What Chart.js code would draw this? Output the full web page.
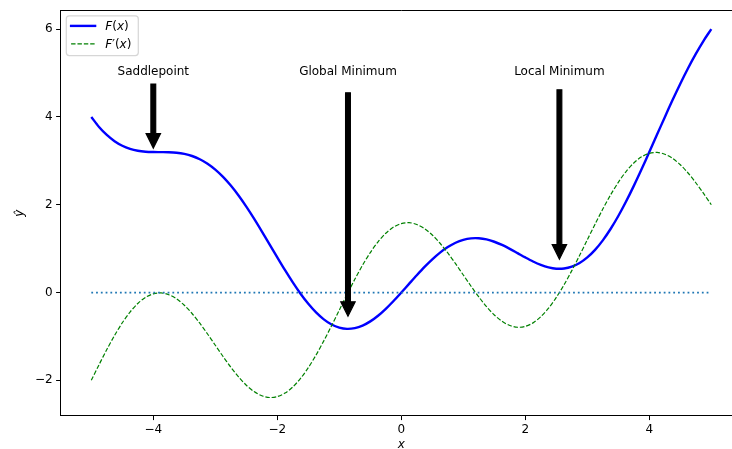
<!DOCTYPE html>
<html>
<head>
<meta charset="utf-8">
<script src="https://cdn.jsdelivr.net/npm/chart.js@4"></script>
<style>
  html, body { margin: 0; padding: 0; overflow: hidden; background: #ffffff; }
  canvas { display: block; }
</style>
</head>
<body>
<canvas id="chart" width="760" height="449"></canvas>
<script>
// Sample positions along x
const xValues = [
  -5, -4.875, -4.75, -4.625, -4.5, -4.375, -4.25, -4.125, -4, -3.875, -3.75, -3.625, -3.5, -3.375, -3.25, -3.125,
  -3, -2.875, -2.75, -2.625, -2.5, -2.375, -2.25, -2.125, -2, -1.875, -1.75, -1.625, -1.5, -1.375, -1.25, -1.125,
  -1, -0.875, -0.75, -0.625, -0.5, -0.375, -0.25, -0.125, 0, 0.125, 0.25, 0.375, 0.5, 0.625, 0.75, 0.875,
  1, 1.125, 1.25, 1.375, 1.5, 1.625, 1.75, 1.875, 2, 2.125, 2.25, 2.375, 2.5, 2.625, 2.75, 2.875,
  3, 3.125, 3.25, 3.375, 3.5, 3.625, 3.75, 3.875, 4, 4.125, 4.25, 4.375, 4.5, 4.625, 4.75, 4.875, 5
];

// F(x)
const fValues = [
  4.000, 3.772, 3.589, 3.447, 3.343, 3.273, 3.230, 3.208, 3.200, 3.198, 3.195, 3.184, 3.157, 3.110, 3.036, 2.934,
  2.800, 2.634, 2.436, 2.210, 1.957, 1.684, 1.395, 1.098, 0.800, 0.508, 0.230, -0.028, -0.257, -0.453, -0.611, -0.728,
  -0.800, -0.828, -0.811, -0.753, -0.657, -0.528, -0.370, -0.192, 0.000, 0.198, 0.395, 0.584, 0.757, 0.910, 1.036, 1.134,
  1.200, 1.234, 1.236, 1.210, 1.157, 1.084, 0.995, 0.898, 0.800, 0.708, 0.630, 0.573, 0.543, 0.547, 0.589, 0.672,
  0.800, 0.972, 1.189, 1.447, 1.743, 2.073, 2.430, 2.808, 3.200, 3.598, 3.995, 4.384, 4.757, 5.110, 5.436, 5.734, 6.000
];

// F'(x)
const dfValues = [
  -2.000, -1.644, -1.299, -0.977, -0.689, -0.444, -0.249, -0.109, -0.029, -0.009, -0.049, -0.144, -0.289, -0.477, -0.699, -0.944,
  -1.200, -1.457, -1.701, -1.923, -2.111, -2.256, -2.351, -2.391, -2.371, -2.291, -2.151, -1.956, -1.711, -1.423, -1.101, -0.757,
  -0.400, -0.044, 0.301, 0.623, 0.911, 1.156, 1.351, 1.491, 1.571, 1.591, 1.551, 1.456, 1.311, 1.123, 0.901, 0.657,
  0.400, 0.144, -0.101, -0.323, -0.511, -0.656, -0.751, -0.791, -0.771, -0.691, -0.551, -0.356, -0.111, 0.177, 0.499, 0.844,
  1.200, 1.557, 1.901, 2.223, 2.511, 2.756, 2.951, 3.091, 3.171, 3.191, 3.151, 3.056, 2.911, 2.723, 2.501, 2.257, 2.000
];

// Horizontal reference line at y = 0
const zeroLineX = [-5, 5];
const zeroLineY = [0, 0];

// Axis ticks
const xTickValues = [-4, -2, 0, 2, 4];
const yTickValues = [-2, 0, 2, 4, 6];

// Annotated points and their label heights
const annotationLabels = ['Saddlepoint', 'Global Minimum', 'Local Minimum'];
const annotationX = [-4, -0.86, 2.55];
const annotationY = [3.2, -0.83, 0.54];
const annotationTextY = [5, 5, 5];

const FONT = '"DejaVu Sans", sans-serif';
Chart.defaults.font.family = FONT;

const toPoints = (xs, ys) => xs.map((x, i) => ({ x: x, y: ys[i] }));
const minusSign = v => String(v).replace('-', '\u2212');

function drawDownArrow(ctx, x, yStart, yTip) {
  const shaftW = 4.8, headW = 14.4, headL = 14.4;
  ctx.beginPath();
  ctx.moveTo(x - shaftW / 2, yStart);
  ctx.lineTo(x + shaftW / 2, yStart);
  ctx.lineTo(x + shaftW / 2, yTip - headL);
  ctx.lineTo(x + headW / 2, yTip - headL);
  ctx.lineTo(x, yTip);
  ctx.lineTo(x - headW / 2, yTip - headL);
  ctx.lineTo(x - shaftW / 2, yTip - headL);
  ctx.closePath();
  ctx.fillStyle = '#000000';
  ctx.fill();
  ctx.lineWidth = 1.2;
  ctx.lineJoin = 'miter';
  ctx.strokeStyle = '#000000';
  ctx.stroke();
}

// Draw a run of text pieces, each with its own font, left to right
function drawPieces(ctx, pieces, x, y) {
  let cx = x;
  ctx.textAlign = 'left';
  ctx.textBaseline = 'alphabetic';
  for (const [txt, italic] of pieces) {
    ctx.font = (italic ? 'oblique ' : '') + '12px ' + FONT;
    ctx.fillText(txt, cx, y);
    cx += ctx.measureText(txt).width;
  }
}

const decorations = {
  id: 'decorations',
  afterDatasetsDraw(chart) {
    const ctx = chart.ctx;
    const xs = chart.scales.x, ys = chart.scales.y;
    ctx.save();
    for (let i = 0; i < annotationLabels.length; i++) {
      const px = xs.getPixelForValue(annotationX[i]);
      const py = ys.getPixelForValue(annotationY[i]);
      const ty = ys.getPixelForValue(annotationTextY[i]);
      const dist = py - ty;
      drawDownArrow(ctx, px, ty + 7 + 0.05 * dist, py - 0.05 * dist);
      ctx.font = '12px ' + FONT;
      ctx.fillStyle = '#000000';
      ctx.textAlign = 'center';
      ctx.textBaseline = 'alphabetic';
      ctx.fillText(annotationLabels[i], px, ty + 2);
    }
    ctx.restore();
  },
  afterDraw(chart) {
    const ctx = chart.ctx;
    const a = chart.chartArea;
    ctx.save();
    // top spine
    ctx.strokeStyle = '#000000';
    ctx.lineWidth = 1;
    ctx.beginPath();
    ctx.moveTo(a.left, Math.round(a.top) - 0.5);
    ctx.lineTo(a.right, Math.round(a.top) - 0.5);
    ctx.stroke();

    // legend box
    const lx = a.left + 6, ly = a.top + 5.2, lw = 72, lh = 39.7, r = 3;
    ctx.beginPath();
    ctx.moveTo(lx + r, ly);
    ctx.lineTo(lx + lw - r, ly);
    ctx.quadraticCurveTo(lx + lw, ly, lx + lw, ly + r);
    ctx.lineTo(lx + lw, ly + lh - r);
    ctx.quadraticCurveTo(lx + lw, ly + lh, lx + lw - r, ly + lh);
    ctx.lineTo(lx + r, ly + lh);
    ctx.quadraticCurveTo(lx, ly + lh, lx, ly + lh - r);
    ctx.lineTo(lx, ly + r);
    ctx.quadraticCurveTo(lx, ly, lx + r, ly);
    ctx.closePath();
    ctx.fillStyle = 'rgba(255,255,255,0.8)';
    ctx.fill();
    ctx.strokeStyle = 'rgba(204,204,204,0.8)';
    ctx.lineWidth = 1.2;
    ctx.stroke();

    const hx0 = lx + 4.8, hx1 = hx0 + 24;
    const row1 = ly + 10, row2 = ly + 28;
    ctx.lineCap = 'square';
    ctx.strokeStyle = '#0000ff';
    ctx.lineWidth = 2.4;
    ctx.beginPath(); ctx.moveTo(hx0, row1); ctx.lineTo(hx1, row1); ctx.stroke();
    ctx.lineCap = 'butt';
    ctx.strokeStyle = '#008000';
    ctx.lineWidth = 1.2;
    ctx.setLineDash([4.44, 1.92]);
    ctx.beginPath(); ctx.moveTo(hx0, row2); ctx.lineTo(hx1, row2); ctx.stroke();
    ctx.setLineDash([]);

    ctx.fillStyle = '#000000';
    drawPieces(ctx, [['F', true], ['(', false], ['x', true], [')', false]], hx1 + 10.2, row1 + 4.4);
    drawPieces(ctx, [['F', true], ['\u2032', false], ['(', false], ['x', true], [')', false]], hx1 + 10.2, row2 + 4.4);

    // axis titles
    ctx.font = 'oblique 12px ' + FONT;
    ctx.textAlign = 'center';
    ctx.textBaseline = 'alphabetic';
    ctx.fillText('x', (a.left + a.right) / 2, 448.3);
    ctx.translate(20, (a.top + a.bottom) / 2);
    ctx.rotate(-Math.PI / 2);
    ctx.textBaseline = 'middle';
    ctx.fillText('\u0177', 0, 0);
    ctx.restore();
  }
};

const axisCommon = {
  type: 'linear',
  grid: { drawOnChartArea: false, drawTicks: true, tickLength: 4.2, color: '#000000', lineWidth: 1 },
  border: { display: true, color: '#000000', width: 1 },
  ticks: { color: '#000000', font: { family: FONT, size: 12 }, maxRotation: 0, autoSkip: false, callback: v => minusSign(v) }
};

new Chart(document.getElementById('chart').getContext('2d'), {
  type: 'scatter',
  data: {
    datasets: [
      { label: 'F(x)', data: toPoints(xValues, fValues), showLine: true, borderColor: '#0000ff', backgroundColor: '#0000ff',
        borderWidth: 2.4, pointRadius: 0, tension: 0.3, borderJoinStyle: 'round', fill: false, order: 3 },
      { label: "F\u2032(x)", data: toPoints(xValues, dfValues), showLine: true, borderColor: '#008000', backgroundColor: '#008000',
        borderWidth: 1.2, borderDash: [4.44, 1.92], pointRadius: 0, tension: 0.3, borderJoinStyle: 'round', fill: false, order: 2 },
      { label: 'zero', data: toPoints(zeroLineX, zeroLineY), showLine: true, borderColor: '#1f77b4', backgroundColor: '#1f77b4',
        borderWidth: 1.8, borderDash: [1.8, 2.97], borderCapStyle: 'butt', pointRadius: 0, fill: false, order: 1 }
    ]
  },
  options: {
    responsive: false,
    animation: false,
    devicePixelRatio: 1,
    events: [],
    layout: { padding: { top: 9.8, right: 17.7, left: 0, bottom: 0 } },
    plugins: { legend: { display: false }, tooltip: { enabled: false }, title: { display: false } },
    scales: {
      x: Object.assign({}, axisCommon, {
        position: 'bottom', min: -5.5, max: 5.5,
        ticks: Object.assign({}, axisCommon.ticks, { padding: 3 }),
        afterBuildTicks: s => { s.ticks = xTickValues.map(v => ({ value: v })); },
        afterFit: s => { s.height = 33.1; }
      }),
      y: Object.assign({}, axisCommon, {
        position: 'left', min: -2.81, max: 6.42,
        ticks: Object.assign({}, axisCommon.ticks, { padding: 3.5 }),
        afterBuildTicks: s => { s.ticks = yTickValues.map(v => ({ value: v })); },
        afterFit: s => { s.width = 60.3; }
      })
    }
  },
  plugins: [decorations]
});
</script>
</body>
</html>
